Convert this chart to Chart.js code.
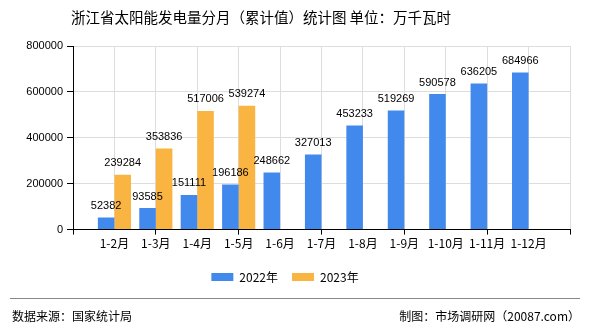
<!DOCTYPE html>
<html>
<head>
<meta charset="utf-8">
<script src="https://cdn.jsdelivr.net/npm/chart.js@4/dist/chart.umd.min.js"></script>
<style>
html, body { margin: 0; padding: 0; background: #fff; }
#wrap { width: 590px; height: 330px; position: relative; }
</style>
</head>
<body>
<div id="wrap"><canvas id="solarChart" width="590" height="330"></canvas></div>
<script>
// 类别与数据
const months = ["1-2月", "1-3月", "1-4月", "1-5月", "1-6月", "1-7月", "1-8月", "1-9月", "1-10月", "1-11月", "1-12月"];
const values2022 = [52382, 93585, 151111, 196186, 248662, 327013, 453233, 519269, 590578, 636205, 684966];
const values2023 = [239284, 353836, 517006, 539274, null, null, null, null, null, null, null];
const yTicks = [0, 200000, 400000, 600000, 800000];

const cjk = '"Noto Sans CJK SC", "Liberation Sans", sans-serif';
const num = '"Liberation Sans", Arial, sans-serif';

// 两端各留一个空位，使类别落在网格线上
const labels = [""].concat(months, [""]);
const pad = arr => [null].concat(arr, [null]);

const barLabels = {
    id: "barLabels",
    afterDatasetsDraw(chart) {
        const ctx = chart.ctx;
        ctx.save();
        ctx.font = "11px " + num;
        ctx.fillStyle = "#000";
        ctx.textAlign = "center";
        ctx.textBaseline = "bottom";
        chart.data.datasets.forEach((ds, i) => {
            chart.getDatasetMeta(i).data.forEach((bar, j) => {
                const v = ds.data[j];
                if (v == null) return;
                ctx.fillText(String(v), bar.x, bar.y - 6);
            });
        });
        ctx.restore();
    }
};

// 标题、分隔线、来源
const chrome = {
    id: "chrome",
    afterDraw(chart) {
        const ctx = chart.ctx;
        ctx.save();
        ctx.fillStyle = "#000";
        ctx.textBaseline = "middle";
        ctx.textAlign = "center";
        ctx.font = "14.5px " + cjk;
        ctx.fillText("浙江省太阳能发电量分月（累计值）统计图 单位：万千瓦时", 261, 17);

        ctx.strokeStyle = "#888";
        ctx.lineWidth = 1;
        ctx.beginPath();
        ctx.moveTo(10, 298.5);
        ctx.lineTo(580, 298.5);
        ctx.stroke();
        ctx.font = "12px " + cjk;
        ctx.textAlign = "left";
        ctx.fillText("数据来源：国家统计局", 12, 316);
        ctx.textAlign = "right";
        ctx.fillText("制图：市场调研网（20087.com）", 580, 316);
        ctx.restore();
    }
};

new Chart(document.getElementById("solarChart"), {
    type: "bar",
    data: {
        labels: labels,
        datasets: [{
                label: "2022年",
                data: pad(values2022),
                backgroundColor: "#4289EE"
            }, {
                label: "2023年",
                data: pad(values2023),
                backgroundColor: "#FAB441"
            }]
    },
    options: {
        responsive: false,
        animation: false,
        devicePixelRatio: 1,
        layout: {
            padding: { left: 0, right: 20, top: 46, bottom: 37 }
        },
        datasets: {
            bar: { categoryPercentage: 0.8, barPercentage: 1.0 }
        },
        plugins: {
            title: { display: false },
            legend: {
                position: "bottom",
                labels: {
                    color: "#000",
                    font: { family: cjk, size: 12 },
                    boxWidth: 22,
                    boxHeight: 8,
                    padding: 14
                }
            },
            tooltip: { enabled: false }
        },
        scales: {
            x: {
                offset: false,
                afterFit: s => { s.height += 4; },
                grid: {
                    offset: false,
                    color: "#ddd",
                    tickLength: 5,
                    tickColor: c => (c.index % 2 === 0 ? "#000" : "rgba(0,0,0,0)")
                },
                border: { color: "#000" },
                ticks: {
                    color: "#000",
                    font: { family: cjk, size: 12 },
                    maxRotation: 0,
                    autoSkip: false,
                    padding: 2
                }
            },
            y: {
                min: 0,
                max: 800000,
                afterBuildTicks: s => { s.ticks = yTicks.map(v => ({ value: v })); },
                afterFit: s => { s.width = 73; },
                grid: { color: "#ddd", tickLength: 6, tickColor: "#000" },
                border: { color: "#000" },
                ticks: {
                    color: "#000",
                    font: { family: num, size: 11 },
                    padding: 4,
                    callback: v => String(v)
                }
            }
        }
    },
    plugins: [barLabels, chrome]
});
</script>
</body>
</html>
